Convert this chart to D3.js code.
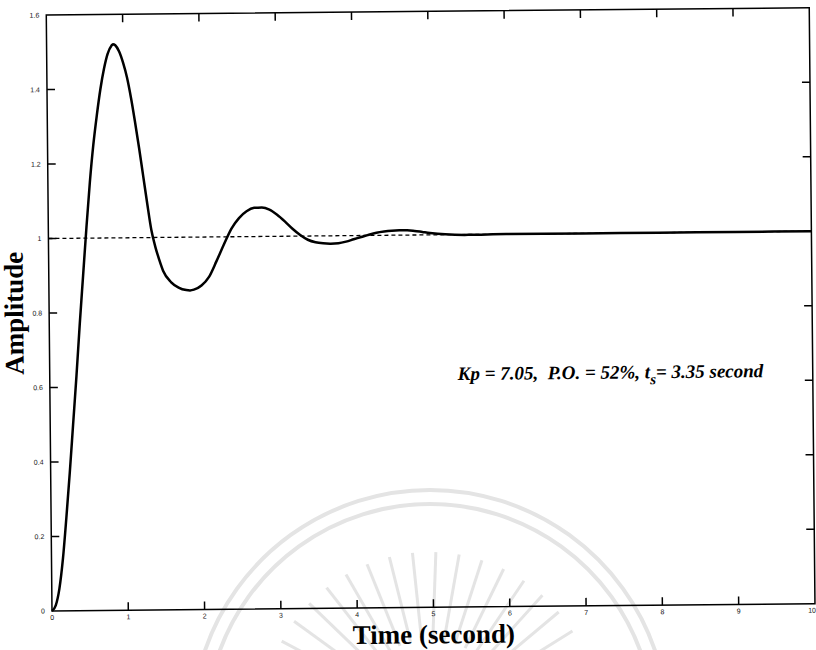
<html>
  <head>
    <meta charset="utf-8">
    <title>Step response</title>
<style>
body { margin: 0; background: #fff; }
.tick-label { font: 7px 'Liberation Sans', sans-serif; fill: #111; }
.axis-title { font-family: 'Liberation Serif', serif; font-weight: bold; font-size: 27px; fill: #000; }
.note { font-family: 'Liberation Serif', serif; font-weight: bold; font-style: italic; font-size: 19px; fill: #000; white-space: pre; }
</style>
  </head>
  <body>
  <div id="chart"></div>

    <script src="https://d3js.org/d3.v7.min.js"></script>
    <script>

    // step response
    var timeVals = [0, 0.05, 0.1, 0.15, 0.2, 0.25, 0.3, 0.35, 0.4, 0.45, 0.5, 0.55, 0.6, 0.65, 0.7, 0.75, 0.8, 0.85, 0.87,
      0.9, 0.95, 1.0, 1.05, 1.1, 1.15, 1.2, 1.25, 1.3, 1.35, 1.4, 1.45, 1.5, 1.6, 1.7, 1.8, 1.85, 1.9, 2.0, 2.1, 2.2,
      2.3, 2.4, 2.5, 2.6, 2.7, 2.8, 2.9, 3.0, 3.1, 3.2, 3.3, 3.4, 3.5, 3.6, 3.7, 3.8, 3.9, 4.0, 4.1,
      4.2, 4.3, 4.4, 4.5, 4.6, 4.7, 4.8, 4.9, 5.0, 5.2, 5.5, 6, 7, 8, 9, 10];
    var ampVals = [0, 0.015, 0.06, 0.14, 0.25, 0.37, 0.5, 0.63, 0.77, 0.9, 1.03, 1.15, 1.25, 1.33, 1.40, 1.455, 1.495, 1.516, 1.52,
      1.517, 1.50, 1.47, 1.43, 1.375, 1.31, 1.24, 1.165, 1.09, 1.02, 0.975, 0.94, 0.91, 0.88, 0.865, 0.858, 0.857, 0.859, 0.87, 0.893, 0.935,
      0.98, 1.022, 1.05, 1.068, 1.077, 1.078, 1.072, 1.058, 1.04, 1.02, 1.003, 0.99, 0.983, 0.98, 0.979, 0.98, 0.984, 0.99, 0.996,
      1.002, 1.007, 1.01, 1.012, 1.013, 1.013, 1.011, 1.008, 1.005, 1.001, 0.999, 1.0, 1.0, 1.0, 1.0, 1.0];

    var xTicks = [0, 1, 2, 3, 4, 5, 6, 7, 8, 9, 10];
    var yTicks = [0, 0.2, 0.4, 0.6, 0.8, 1, 1.2, 1.4, 1.6];
    var yTickLabels = ["0", "0.2", "0.4", "0.6", "0.8", "1", "1.2", "1.4", "1.6"];
    var refLevel = [1];
    var noteParts = ["Kp = 7.05,  P.O. = 52%, t", "s", "= 3.35 second"];

    var width = 816, height = 650;
    var mLeft = 52, mRight = 815, mTop = 15, mBottom = 611;

    var svg = d3.select("#chart").append("svg")
      .attr("width", width)
      .attr("height", height);

    // faint watermark seal behind the plot
    var mark = svg.append("g")
      .attr("fill", "none")
      .attr("stroke", "#e4e4e4");
    [238, 224].forEach(function(r) {
      mark.append("path")
        .attr("stroke-width", 4)
        .attr("d", d3.arc()({innerRadius: r, outerRadius: r, startAngle: -1.25, endAngle: 1.25}))
        .attr("transform", "translate(430,728)");
    });
    d3.range(-70, 71, 8).forEach(function(a) {
      var rad = a * Math.PI / 180;
      mark.append("line")
        .attr("stroke-width", 3)
        .attr("x1", 430 + 80 * Math.sin(rad)).attr("y1", 720 - 80 * Math.cos(rad))
        .attr("x2", 430 + 168 * Math.sin(rad)).attr("y2", 720 - 168 * Math.cos(rad));
    });

    // scan is slightly rotated
    var g = svg.append("g")
      .attr("transform", "rotate(-0.55," + mLeft + "," + mBottom + ")");

    var x = d3.scaleLinear().domain([0, 10]).range([mLeft, mRight]);
    var y = d3.scaleLinear().domain([0, 1.6]).range([mBottom, mTop]);

    g.append("rect")
      .attr("x", mLeft).attr("y", mTop)
      .attr("width", mRight - mLeft).attr("height", mBottom - mTop)
      .attr("fill", "none")
      .attr("stroke", "#000")
      .attr("stroke-width", 1.5);

    // inward ticks on all four sides
    g.selectAll(".xt")
      .data(xTicks.slice(1, -1))
      .enter().append("path")
      .attr("d", function(d) {
        return "M" + x(d) + "," + mBottom + "v-8M" + x(d) + "," + mTop + "v8";
      })
      .attr("stroke", "#000").attr("stroke-width", 1.5);

    g.selectAll(".yt")
      .data(yTicks.slice(1, -1))
      .enter().append("path")
      .attr("d", function(d) {
        return "M" + mLeft + "," + y(d) + "h8M" + mRight + "," + y(d) + "h-8";
      })
      .attr("stroke", "#000").attr("stroke-width", 1.5);

    g.selectAll(".xl")
      .data(xTicks)
      .enter().append("text")
      .attr("class", "tick-label")
      .attr("x", function(d) { return Math.min(x(d), mRight - 3); })
      .attr("y", mBottom + 9)
      .attr("text-anchor", "middle")
      .text(function(d) { return d; });

    g.selectAll(".yl")
      .data(yTicks)
      .enter().append("text")
      .attr("class", "tick-label")
      .attr("x", mLeft - 7)
      .attr("y", function(d) { return Math.max(y(d) + 2.5, 8); })
      .attr("text-anchor", "end")
      .text(function(d, i) { return yTickLabels[i]; });

    g.selectAll(".ref")
      .data(refLevel)
      .enter().append("line")
      .attr("x1", x(0)).attr("x2", x(10))
      .attr("y1", function(d) { return y(d); })
      .attr("y2", function(d) { return y(d); })
      .attr("stroke", "#000")
      .attr("stroke-width", 1.3)
      .attr("stroke-dasharray", "4,3");

    var line = d3.line()
      .x(function(d, i) { return x(timeVals[i]); })
      .y(function(d) { return y(d); })
      .curve(d3.curveMonotoneX);

    g.append("path")
      .datum(ampVals)
      .attr("d", line)
      .attr("fill", "none")
      .attr("stroke", "#000")
      .attr("stroke-width", 2.5);

    g.append("text")
      .attr("class", "axis-title")
      .attr("transform", "translate(26," + ((mTop + mBottom) / 2) + ") rotate(-90)")
      .attr("text-anchor", "middle")
      .text("Amplitude");

    g.append("text")
      .attr("class", "axis-title")
      .attr("x", (mLeft + mRight) / 2)
      .attr("y", 647)
      .attr("text-anchor", "middle")
      .text("Time (second)");

    var note = g.append("text")
      .attr("class", "note")
      .attr("x", 460)
      .attr("y", 384);
    note.append("tspan").text(noteParts[0]);
    note.append("tspan").attr("dy", 6).attr("font-size", 15).text(noteParts[1]);
    note.append("tspan").attr("dy", -6).text(noteParts[2]);

     </script>
  </body>
</html>
